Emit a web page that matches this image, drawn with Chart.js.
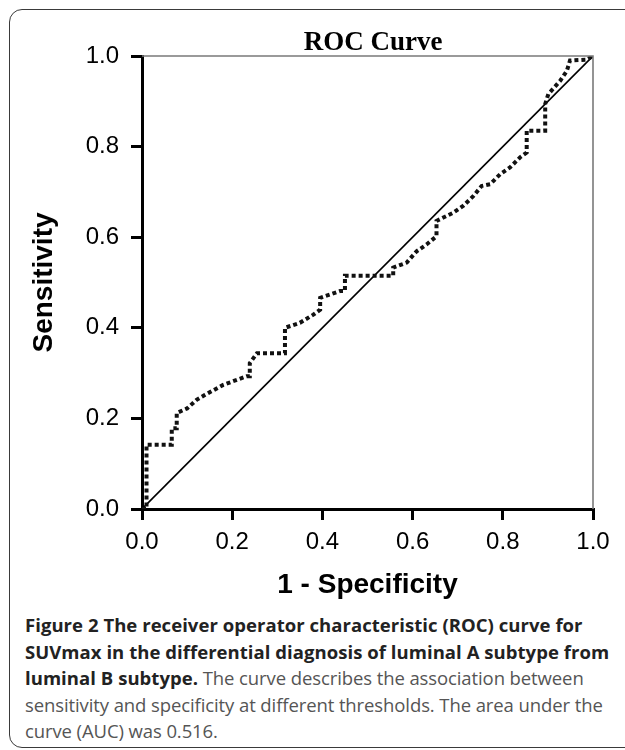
<!DOCTYPE html>
<html>
<head>
<meta charset="utf-8">
<script src="https://cdn.jsdelivr.net/npm/chart.js@4"></script>
<style>
  html, body { margin: 0; padding: 0; background: #fff; }
  body { width: 625px; height: 750px; position: relative; overflow: hidden; }
  #frame { position: absolute; left: 9px; top: 9px; width: 660px; height: 739px;
           border: 1.5px solid #3a3a3a; border-radius: 13px; box-sizing: border-box; }
  #wrap { position: absolute; left: 0; top: 0; width: 625px; height: 602px; }
  #caption { position: absolute; left: 25px; top: 612px; font-family: "Open Sans", sans-serif;
             font-size: 18.5px; line-height: 26.5px; color: #555; white-space: nowrap; letter-spacing: -0.1px; }
  #caption b { color: #222; font-weight: 700; letter-spacing: 0.05px; }
</style>
</head>
<body>
<div id="frame"></div>
<div id="wrap"><canvas id="c" width="625" height="602"></canvas></div>
<div id="caption"><b>Figure 2 The receiver operator characteristic (ROC) curve for<br>SUVmax in the differential diagnosis of luminal A subtype from<br>luminal B subtype.</b> The curve describes the association between<br>sensitivity and specificity at different thresholds. The area under the<br>curve (AUC) was 0.516.</div>
<script>
const chartTitle = "ROC Curve";
const xAxisTitle = "1 - Specificity";
const yAxisTitle = "Sensitivity";
const tickValues = [0, 0.2, 0.4, 0.6, 0.8, 1.0];

// ROC curve vertices
const fpr = [0, 0.010, 0.010, 0.066, 0.066, 0.077, 0.077, 0.100, 0.121, 0.140, 0.180, 0.232, 0.239, 0.239,
             0.255, 0.317, 0.317, 0.350, 0.380, 0.395, 0.395, 0.439, 0.450, 0.450, 0.557, 0.557, 0.587,
             0.609, 0.631, 0.653, 0.653, 0.690, 0.712, 0.735, 0.753, 0.772, 0.794, 0.816, 0.838, 0.853,
             0.853, 0.894, 0.894, 0.901, 0.927, 0.942, 0.949, 0.986, 1.0];
const tpr = [0, 0.000, 0.142, 0.142, 0.178, 0.178, 0.212, 0.222, 0.241, 0.252, 0.274, 0.293, 0.293, 0.322,
             0.344, 0.344, 0.400, 0.411, 0.429, 0.440, 0.466, 0.481, 0.481, 0.515, 0.515, 0.533, 0.544,
             0.569, 0.584, 0.602, 0.636, 0.654, 0.669, 0.691, 0.713, 0.717, 0.739, 0.754, 0.776, 0.787,
             0.835, 0.835, 0.894, 0.916, 0.945, 0.967, 0.990, 0.992, 1.0];
const refX = [0, 1];
const refY = [0, 1];

const rocPoints = fpr.map((v, i) => ({ x: v, y: tpr[i] }));
const refPoints = refX.map((v, i) => ({ x: v, y: refY[i] }));

const decor = {
  id: 'decor',
  afterDraw(chart) {
    const { ctx, chartArea: a } = chart;
    ctx.save();
    ctx.strokeStyle = '#7a7a7a';
    ctx.lineWidth = 1.6;
    ctx.beginPath();
    ctx.moveTo(a.left, a.top);
    ctx.lineTo(a.right, a.top);
    ctx.lineTo(a.right, a.bottom);
    ctx.stroke();
    ctx.fillStyle = '#000';
    ctx.font = 'bold 27px "Liberation Serif", "Times New Roman", serif';
    ctx.textAlign = 'center';
    ctx.textBaseline = 'alphabetic';
    ctx.fillText(chartTitle, 373, 50);
    ctx.restore();
  }
};

const tickFont = { family: '"Liberation Sans", Arial, sans-serif', size: 24 };
const axisTitleFont = { family: '"Liberation Sans", Arial, sans-serif', size: 28, weight: 'bold' };

new Chart(document.getElementById('c'), {
  type: 'scatter',
  data: {
    datasets: [
      { data: refPoints, showLine: true, borderColor: '#000', borderWidth: 1.6, pointRadius: 0, order: 2 },
      { data: rocPoints, showLine: true, borderColor: '#111', borderWidth: 4, borderDash: [4, 3],
        borderCapStyle: 'butt', borderJoinStyle: 'miter', pointRadius: 0, order: 1 }
    ]
  },
  options: {
    responsive: false,
    animation: false,
    layout: { padding: { left: 0, right: 32, top: 56, bottom: 0 } },
    plugins: { legend: { display: false }, tooltip: { enabled: false }, title: { display: false } },
    scales: {
      x: {
        type: 'linear', min: 0, max: 1,
        afterBuildTicks: s => { s.ticks = tickValues.map(v => ({ value: v })); },
        afterFit: s => { s.height = 93; },
        ticks: { font: tickFont, color: '#000', padding: 8, maxRotation: 0,
                 callback: v => v.toFixed(1) },
        grid: { drawOnChartArea: false, drawTicks: true, tickLength: 11, color: '#000', lineWidth: 3 },
        border: { display: true, color: '#000', width: 3 },
        title: { display: true, text: xAxisTitle, font: axisTitleFont, color: '#000', padding: { top: 0, bottom: 0 } }
      },
      y: {
        type: 'linear', min: 0, max: 1,
        afterBuildTicks: s => { s.ticks = tickValues.map(v => ({ value: v })); },
        afterFit: s => { s.width = 142; },
        ticks: { font: tickFont, color: '#000', padding: 12, callback: v => v.toFixed(1) },
        grid: { drawOnChartArea: false, drawTicks: true, tickLength: 11, color: '#000', lineWidth: 3 },
        border: { display: true, color: '#000', width: 3 },
        title: { display: true, text: yAxisTitle, font: axisTitleFont, color: '#000', padding: { top: 27, bottom: 0 } }
      }
    }
  },
  plugins: [decor]
});
</script>
</body>
</html>
